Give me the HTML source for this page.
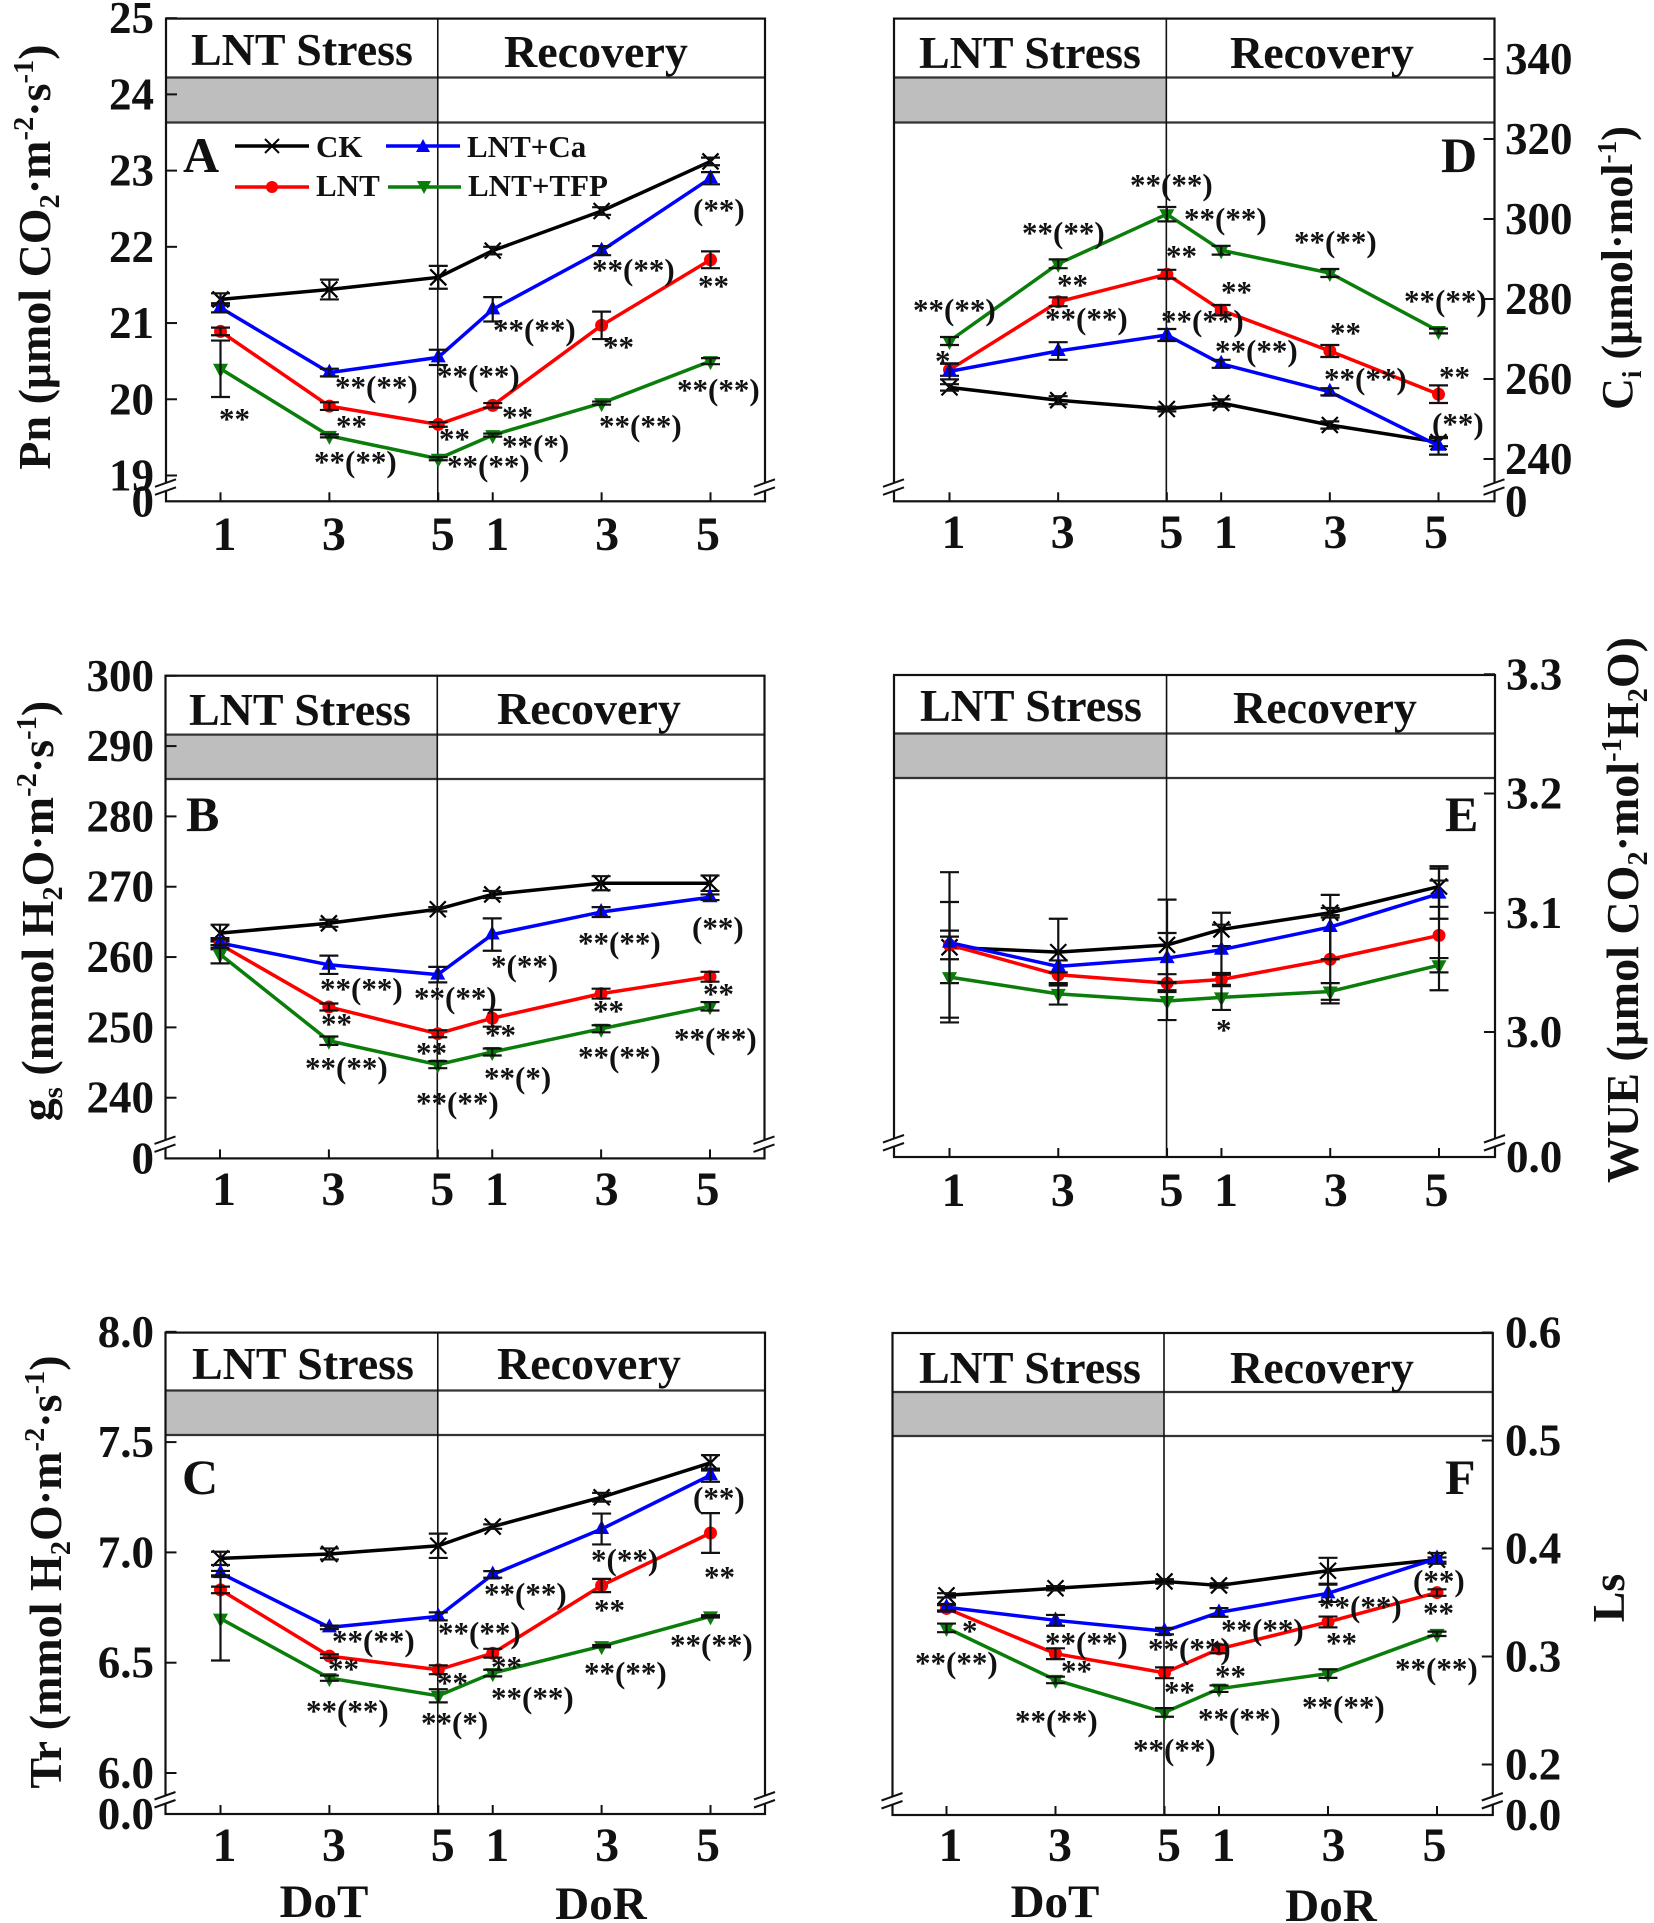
<!DOCTYPE html>
<html lang="en">
<head>
<meta charset="utf-8">
<title>Photosynthetic parameters under LNT stress and recovery</title>
<style>
html,body{margin:0;padding:0;background:#fff;}
svg{display:block;}
text{font-family:"Liberation Serif",serif;font-weight:bold;fill:#111;}
.head{font-size:46px;}
.letter{font-size:50px;}
.title{font-size:46px;}
.title-sm{font-size:44px;}
.tick{font-size:45px;}
.xl{font-size:48px;}
.xt{font-size:47px;}
.leg{font-size:31px;}
.sig{font-size:31px;}
.s{font-size:62%;}
</style>
</head>
<body>
<svg id="figure" xmlns="http://www.w3.org/2000/svg" width="1654" height="1923" viewBox="0 0 1654 1923">
<rect width="1654" height="1923" fill="#fff"/>
<g id="charts"></g>

<g>
<text class="head" x="191" y="65">LNT Stress</text>
<text class="head" x="504" y="67">Recovery</text>
<text class="head" x="919" y="68">LNT Stress</text>
<text class="head" x="1230" y="68">Recovery</text>
<text class="head" x="189" y="725">LNT Stress</text>
<text class="head" x="497" y="724">Recovery</text>
<text class="head" x="920" y="721">LNT Stress</text>
<text class="head" x="1233" y="723">Recovery</text>
<text class="head" x="192" y="1379">LNT Stress</text>
<text class="head" x="497" y="1379">Recovery</text>
<text class="head" x="919" y="1383">LNT Stress</text>
<text class="head" x="1230" y="1383">Recovery</text>
</g>

<g>
<text class="letter" x="183" y="172">A</text>
<text class="letter" x="186" y="831">B</text>
<text class="letter" x="182" y="1494">C</text>
<text class="letter" x="1441" y="172">D</text>
<text class="letter" x="1445" y="831">E</text>
<text class="letter" x="1445" y="1494">F</text>
</g>

<g>
<text class="title" text-anchor="middle" transform="translate(50,257) rotate(-90)">Pn (μmol CO<tspan class="s" dy="9">2</tspan><tspan dy="-9">·m</tspan><tspan class="s" dy="-17">-2</tspan><tspan dy="17">·s</tspan><tspan class="s" dy="-17">-1</tspan><tspan dy="17">)</tspan></text>
<text class="title" text-anchor="middle" transform="translate(53,911) rotate(-90)">g<tspan class="s" dy="9">s</tspan><tspan dy="-9"> (mmol H</tspan><tspan class="s" dy="9">2</tspan><tspan dy="-9">O·m</tspan><tspan class="s" dy="-17">-2</tspan><tspan dy="17">·s</tspan><tspan class="s" dy="-17">-1</tspan><tspan dy="17">)</tspan></text>
<text class="title" text-anchor="middle" transform="translate(61,1572) rotate(-90)">Tr (mmol H<tspan class="s" dy="9">2</tspan><tspan dy="-9">O·m</tspan><tspan class="s" dy="-17">-2</tspan><tspan dy="17">·s</tspan><tspan class="s" dy="-17">-1</tspan><tspan dy="17">)</tspan></text>
<text class="title-sm" text-anchor="middle" transform="translate(1632,268) rotate(-90)">C<tspan class="s" dy="9">i</tspan><tspan dy="-9"> (μmol·mol</tspan><tspan class="s" dy="-16">-1</tspan><tspan dy="16">)</tspan></text>
<text class="title" text-anchor="middle" transform="translate(1638,910) rotate(-90)">WUE (μmol CO<tspan class="s" dy="9">2</tspan><tspan dy="-9">·mol</tspan><tspan class="s" dy="-17">-1</tspan><tspan dy="17">H</tspan><tspan class="s" dy="9">2</tspan><tspan dy="-9">O)</tspan></text>
<text class="title" text-anchor="middle" transform="translate(1624,1598) rotate(-90)">Ls</text>
</g>

<g>
<text class="xt" text-anchor="middle" x="324" y="1917">DoT</text>
<text class="xt" text-anchor="middle" x="601" y="1919">DoR</text>
<text class="xt" text-anchor="middle" x="1055" y="1917">DoT</text>
<text class="xt" text-anchor="middle" x="1331" y="1921">DoR</text>
</g>

<g>
<g>
<line x1="235" y1="146" x2="309" y2="146" stroke="#000" stroke-width="3.5"/>
<path d="M265 139l14 14M279 139l-14 14" stroke="#000" stroke-width="2" fill="none"/>
<text class="leg" x="316" y="157">CK</text>
</g>
<g>
<line x1="386" y1="146" x2="460" y2="146" stroke="#0000ff" stroke-width="3.5"/>
<path d="M423 139l7 13h-14z" fill="#0000ff"/>
<text class="leg" x="467" y="157">LNT+Ca</text>
</g>
<g>
<line x1="235" y1="187" x2="309" y2="187" stroke="#ff0000" stroke-width="3.5"/>
<circle cx="272" cy="187" r="6" fill="#ff0000"/>
<text class="leg" x="316" y="196">LNT</text>
</g>
<g>
<line x1="388" y1="187" x2="461" y2="187" stroke="#0a7d0a" stroke-width="3.5"/>
<path d="M424 194l7 -13h-14z" fill="#0a7d0a"/>
<text class="leg" x="468" y="196">LNT+TFP</text>
</g>
</g>

<g>
<text class="sig" x="219" y="429">**</text>
<text class="sig" x="693" y="220">(**)</text>
<text class="sig" x="592" y="280">**(**)</text>
<text class="sig" x="698" y="296">**</text>
<text class="sig" x="493" y="340">**(**)</text>
<text class="sig" x="603" y="357">**</text>
<text class="sig" x="335" y="397">**(**)</text>
<text class="sig" x="437" y="386">**(**)</text>
<text class="sig" x="336" y="436">**</text>
<text class="sig" x="502" y="427">**</text>
<text class="sig" x="439" y="449">**</text>
<text class="sig" x="502" y="456">**(*)</text>
<text class="sig" x="314" y="472">**(**)</text>
<text class="sig" x="447" y="476">**(**)</text>
<text class="sig" x="599" y="436">**(**)</text>
<text class="sig" x="677" y="400">**(**)</text>
</g>
<g>
<text class="sig" x="913" y="320">**(**)</text>
<text class="sig" x="935" y="371">*</text>
<text class="sig" x="1022" y="243">**(**)</text>
<text class="sig" x="1057" y="295">**</text>
<text class="sig" x="1045" y="329">**(**)</text>
<text class="sig" x="1130" y="195">**(**)</text>
<text class="sig" x="1166" y="266">**</text>
<text class="sig" x="1161" y="331">**(**)</text>
<text class="sig" x="1184" y="229">**(**)</text>
<text class="sig" x="1221" y="302">**</text>
<text class="sig" x="1215" y="361">**(**)</text>
<text class="sig" x="1294" y="252">**(**)</text>
<text class="sig" x="1330" y="343">**</text>
<text class="sig" x="1324" y="389">**(**)</text>
<text class="sig" x="1404" y="311">**(**)</text>
<text class="sig" x="1439" y="387">**</text>
<text class="sig" x="1432" y="434">(**)</text>
</g>
<g>
<text class="sig" x="320" y="999">**(**)</text>
<text class="sig" x="321" y="1034">**</text>
<text class="sig" x="305" y="1078">**(**)</text>
<text class="sig" x="414" y="1008">**(**)</text>
<text class="sig" x="416" y="1063">**</text>
<text class="sig" x="416" y="1113">**(**)</text>
<text class="sig" x="491" y="976">*(**)</text>
<text class="sig" x="485" y="1045">**</text>
<text class="sig" x="484" y="1088">**(*)</text>
<text class="sig" x="578" y="953">**(**)</text>
<text class="sig" x="593" y="1021">**</text>
<text class="sig" x="578" y="1067">**(**)</text>
<text class="sig" x="692" y="938">(**)</text>
<text class="sig" x="703" y="1004">**</text>
<text class="sig" x="674" y="1049">**(**)</text>
</g>
<g>
<text class="sig" x="1216" y="1040">*</text>
</g>
<g>
<text class="sig" x="332" y="1651">**(**)</text>
<text class="sig" x="328" y="1679">**</text>
<text class="sig" x="306" y="1721">**(**)</text>
<text class="sig" x="438" y="1643">**(**)</text>
<text class="sig" x="437" y="1693">**</text>
<text class="sig" x="421" y="1733">**(*)</text>
<text class="sig" x="484" y="1604">**(**)</text>
<text class="sig" x="491" y="1677">**</text>
<text class="sig" x="491" y="1708">**(**)</text>
<text class="sig" x="591" y="1570">*(**)</text>
<text class="sig" x="594" y="1620">**</text>
<text class="sig" x="584" y="1683">**(**)</text>
<text class="sig" x="693" y="1508">(**)</text>
<text class="sig" x="704" y="1587">**</text>
<text class="sig" x="670" y="1655">**(**)</text>
</g>
<g>
<text class="sig" x="962" y="1641">*</text>
<text class="sig" x="915" y="1673">**(**)</text>
<text class="sig" x="1045" y="1653">**(**)</text>
<text class="sig" x="1061" y="1681">**</text>
<text class="sig" x="1015" y="1731">**(**)</text>
<text class="sig" x="1148" y="1659">**(**)</text>
<text class="sig" x="1164" y="1702">**</text>
<text class="sig" x="1133" y="1760">**(**)</text>
<text class="sig" x="1221" y="1640">**(**)</text>
<text class="sig" x="1215" y="1686">**</text>
<text class="sig" x="1198" y="1729">**(**)</text>
<text class="sig" x="1319" y="1617">**(**)</text>
<text class="sig" x="1326" y="1653">**</text>
<text class="sig" x="1302" y="1717">**(**)</text>
<text class="sig" x="1413" y="1591">(**)</text>
<text class="sig" x="1423" y="1623">**</text>
<text class="sig" x="1395" y="1679">**(**)</text>
</g>
</svg>

<script>
// Shared category data: day of treatment / day of recovery
const dayPositions = [1, 3, 5, 6, 8, 10];
const dayLabels = ['1', '3', '5', '1', '3', '5'];

// Panel A: Pn
const pnTicks = [19, 20, 21, 22, 23, 24, 25];
const pnCK = [21.31, 21.44, 21.6, 21.95, 22.47, 23.12];
const pnCKErr = [0.08, 0.13, 0.15, 0.05, 0.05, 0.05];
const pnLNT = [20.89, 19.91, 19.67, 19.92, 20.97, 21.83];
const pnLNTErr = [0.05, 0.05, 0.03, 0.03, 0.18, 0.11];
const pnCa = [21.2, 20.35, 20.55, 21.18, 21.95, 22.9];
const pnCaErr = [0.06, 0.05, 0.1, 0.16, 0.06, 0.08];
const pnTFP = [20.4, 19.52, 19.22, 19.53, 19.95, 20.5];
const pnTFPErr = [0.37, 0.02, 0.02, 0.02, 0.02, 0.04];

// Panel B: gs
const gsTicks = [240, 250, 260, 270, 280, 290, 300];
const gsCK = [263.4, 264.8, 266.8, 268.9, 270.5, 270.5];
const gsCKErr = [1.2, 0.5, 0.3, 0.5, 1, 1.1];
const gsLNT = [261.8, 252.9, 249.1, 251.3, 254.8, 257.2];
const gsLNTErr = [0.7, 0.5, 0.5, 1.2, 0.7, 0.7];
const gsCa = [262, 258.9, 257.5, 263.2, 266.4, 268.5];
const gsCaErr = [0.7, 1.3, 1.1, 2.3, 0.7, 0.4];
const gsTFP = [260.4, 248.1, 244.7, 246.5, 249.8, 253];
const gsTFPErr = [1.3, 0.6, 0.5, 0.5, 0.5, 0.6];

// Panel C: Tr
const trTicks = [6, 6.5, 7, 7.5, 8];
const trCK = [6.973, 6.993, 7.03, 7.117, 7.25, 7.406];
const trCKErr = [0.03, 0.025, 0.055, 0.01, 0.02, 0.035];
const trLNT = [6.83, 6.53, 6.468, 6.543, 6.85, 7.088];
const trLNTErr = [0.015, 0.008, 0.02, 0.02, 0.03, 0.09];
const trCa = [6.906, 6.66, 6.71, 6.9, 7.106, 7.35];
const trCaErr = [0.01, 0.008, 0.018, 0.015, 0.07, 0.03];
const trTFP = [6.7, 6.43, 6.35, 6.453, 6.575, 6.71];
const trTFPErr = [0.19, 0.012, 0.03, 0.015, 0.005, 0.005];

// Panel D: Ci
const ciTicks = [240, 260, 280, 300, 320, 340];
const ciCK = [257.9, 254.7, 252.5, 254, 248.5, 244.2];
const ciCKErr = [0.8, 1, 0.6, 0.9, 0.9, 1];
const ciLNT = [262.3, 279.3, 286.2, 277.2, 267, 256.2];
const ciLNTErr = [1.5, 1.1, 1.1, 1.3, 1.5, 2.2];
const ciCa = [261.9, 267, 271, 263.8, 256.8, 243.3];
const ciCaErr = [2, 2.2, 1.5, 1, 0.9, 2.2];
const ciTFP = [269.5, 288.8, 301.2, 292.2, 286.5, 272];
const ciTFPErr = [1, 1.1, 1.8, 1.1, 1, 0.6];

// Panel E: WUE
const wueTicks = [3, 3.1, 3.2, 3.3];
const wueCK = [3.071, 3.067, 3.073, 3.086, 3.1, 3.122];
const wueCKErr = [0.063, 0.028, 0.038, 0.014, 0.004, 0.017];
const wueLNT = [3.073, 3.048, 3.041, 3.044, 3.061, 3.081];
const wueLNTErr = [0.012, 0.008, 0.0075, 0.0055, 0.037, 0.046];
const wueCa = [3.075, 3.055, 3.062, 3.069, 3.088, 3.116];
const wueCaErr = [0.034, 0.005, 0.021, 0.021, 0.027, 0.021];
const wueTFP = [3.046, 3.032, 3.026, 3.029, 3.034, 3.056];
const wueTFPErr = [0.034, 0.009, 0.016, 0.0105, 0.007, 0.006];

// Panel F: Ls
const lsTicks = [0.2, 0.3, 0.4, 0.5, 0.6];
const lsCK = [0.3566, 0.3632, 0.3695, 0.3658, 0.3794, 0.3897];
const lsCKErr = [0.002, 0.002, 0.002, 0.002, 0.012, 0.002];
const lsLNT = [0.3445, 0.3026, 0.2849, 0.307, 0.332, 0.3592];
const lsLNTErr = [0.003, 0.005, 0.005, 0.004, 0.005, 0.003];
const lsCa = [0.3456, 0.3335, 0.3235, 0.3408, 0.3585, 0.3908];
const lsCaErr = [0.003, 0.005, 0.003, 0.004, 0.008, 0.005];
const lsTFP = [0.3265, 0.2783, 0.2482, 0.2702, 0.2842, 0.321];
const lsTFPErr = [0.004, 0.003, 0.004, 0.003, 0.004, 0.002];

const NS = 'http://www.w3.org/2000/svg';
const charts = document.getElementById('charts');

function mk(tag, parent, attrs, text) {
  const el = document.createElementNS(NS, tag);
  for (const k in attrs) el.setAttribute(k, attrs[k]);
  if (text !== undefined) el.textContent = text;
  parent.appendChild(el);
  return el;
}
function linearScale(v0, p0, v1, p1) {
  return function (v) { return p0 + (v - v0) * (p1 - p0) / (v1 - v0); };
}
function xLabelOffset(i) {
  if (i === 5) return -2.5;
  if (i === 4) return 5.5;
  if (i === 0) return 4;
  return 4.5;
}

function drawPanel(cfg) {
  const g = mk('g', charts, {});
  
  
  const x = linearScale(1, cfg.x1, 10, cfg.x10);
  const y = linearScale(cfg.v0, cfg.p0, cfg.v1, cfg.p1);
  const midX = x(5) - 0.5;

  // shaded treatment band
  const band = mk('rect', g, {x: cfg.left, y: cfg.h1, width: midX - cfg.left, height: cfg.h2 - cfg.h1, fill: '#bebebe'});
  
  

  // header rules
  [cfg.h1, cfg.h2].forEach(function (yy) {
    const rule = mk('line', g, {x1: cfg.left, y1: yy, x2: cfg.right, y2: yy, stroke: '#333', 'stroke-width': 2.2});
    
    
  });

  // plot frame
  const frame = mk('rect', g, {x: cfg.left, y: cfg.top, width: cfg.right - cfg.left, height: cfg.bottom - cfg.top, fill: 'none', stroke: '#111', 'stroke-width': 2.2});
  
  

  // stage divider
  const divider = mk('line', g, {x1: midX, y1: cfg.top, x2: midX, y2: cfg.bottom, stroke: '#111', 'stroke-width': 1.6});
  
  

  // x ticks and labels
  dayPositions.forEach(function (d, i) {
    const t = mk('line', g, {x1: x(d), y1: cfg.bottom, x2: x(d), y2: cfg.bottom - 9, stroke: '#111', 'stroke-width': 2});
    
    
    const lb = mk('text', g, {x: x(d) + xLabelOffset(i), y: cfg.xBase, 'text-anchor': 'middle', class: 'xl'}, dayLabels[i]);
    
    
  });

  // y ticks and labels
  const axisX = cfg.side === 'left' ? cfg.left : cfg.right;
  const dir = cfg.side === 'left' ? 1 : -1;
  cfg.ticks.forEach(function (v) {
    const t = mk('line', g, {x1: axisX, y1: y(v), x2: axisX + dir * 11, y2: y(v), stroke: '#111', 'stroke-width': 2});
    
    
    const lb = mk('text', g, {x: cfg.labelX, y: y(v) + 15, 'text-anchor': cfg.side === 'left' ? 'end' : 'start', class: 'tick'}, v.toFixed(cfg.decimals));
    
    
  });
  const zero = mk('text', g, {x: cfg.labelX, y: cfg.bottom + 15, 'text-anchor': cfg.side === 'left' ? 'end' : 'start', class: 'tick'}, cfg.zero);
  
  

  // axis breaks
  [cfg.left, cfg.right].forEach(function (bx) {
    const by = cfg.bottom;
    const brk = mk('g', g, {});
    
    
    mk('path', brk, {d: 'M' + (bx - 11) + ' ' + (by - 14.5) + 'L' + (bx + 10) + ' ' + (by - 22) + 'V' + (by - 14) + 'L' + (bx - 11) + ' ' + (by - 6.5) + 'z', fill: '#fff'});
    mk('line', brk, {x1: bx - 11, y1: by - 14.5, x2: bx + 10, y2: by - 22, stroke: '#111', 'stroke-width': 2});
    mk('line', brk, {x1: bx - 11, y1: by - 6.5, x2: bx + 10, y2: by - 14, stroke: '#111', 'stroke-width': 2});
  });

  // series
  cfg.series.forEach(function (s) {
    const sg = mk('g', g, {});
    
    
    const pts = s.values.map(function (v, i) { return x(dayPositions[i]) + ',' + y(v); }).join(' ');
    const line = mk('polyline', sg, {points: pts, fill: 'none', stroke: s.color, 'stroke-width': 3.5, 'stroke-linejoin': 'round'});
    
    
    s.values.forEach(function (v, i) {
      const px = x(dayPositions[i]);
      const py = y(v);
      let m;
      if (s.marker === 'cross') {
        m = mk('path', sg, {d: 'M' + (px - 8) + ' ' + (py - 8) + 'l16 16M' + (px + 8) + ' ' + (py - 8) + 'l-16 16', stroke: s.color, 'stroke-width': 2.2, fill: 'none'});
      } else if (s.marker === 'circle') {
        m = mk('circle', sg, {cx: px, cy: py, r: 6.5, fill: s.color});
      } else if (s.marker === 'up') {
        m = mk('path', sg, {d: 'M' + px + ' ' + (py - 9) + 'l7.5 14h-15z', fill: s.color});
      } else {
        m = mk('path', sg, {d: 'M' + px + ' ' + (py + 9) + 'l7.5 -14h-15z', fill: s.color});
      }
      
      
      const hi = y(v + s.errors[i]);
      const lo = y(v - s.errors[i]);
      const bar = mk('path', sg, {d: 'M' + px + ' ' + hi + 'V' + lo + 'M' + (px - 9.5) + ' ' + hi + 'h19M' + (px - 9.5) + ' ' + lo + 'h19', stroke: '#111', 'stroke-width': 2.2, fill: 'none'});
      
      
    });
  });
}

function seriesSet(ck, ckE, lnt, lntE, ca, caE, tfp, tfpE) {
  return [
    {key: 'ck', color: '#000000', marker: 'cross', values: ck, errors: ckE},
    {key: 'lnt', color: '#ff0000', marker: 'circle', values: lnt, errors: lntE},
    {key: 'lnt-ca', color: '#0000ff', marker: 'up', values: ca, errors: caE},
    {key: 'lnt-tfp', color: '#0a7d0a', marker: 'down', values: tfp, errors: tfpE}
  ];
}

drawPanel({id: 'a', side: 'left', left: 166, right: 765, top: 18.6, h1: 77.5, h2: 122.5, bottom: 501.3,
  x1: 220.5, x10: 710.5, xBase: 550, v0: 19, p0: 475.5, v1: 23, p1: 170.6, ticks: pnTicks, decimals: 0,
  labelX: 154, zero: '0', series: seriesSet(pnCK, pnCKErr, pnLNT, pnLNTErr, pnCa, pnCaErr, pnTFP, pnTFPErr)});
drawPanel({id: 'b', side: 'left', left: 165.5, right: 764.5, top: 675.7, h1: 734.6, h2: 779, bottom: 1158.4,
  x1: 220, x10: 710, xBase: 1205, v0: 240, p0: 1097.7, v1: 280, p1: 816.4, ticks: gsTicks, decimals: 0,
  labelX: 154, zero: '0', series: seriesSet(gsCK, gsCKErr, gsLNT, gsLNTErr, gsCa, gsCaErr, gsTFP, gsTFPErr)});
drawPanel({id: 'c', side: 'left', left: 165.5, right: 765, top: 1332.6, h1: 1390.5, h2: 1435, bottom: 1814,
  x1: 220.5, x10: 710.5, xBase: 1861, v0: 6, p0: 1773, v1: 8, p1: 1331.8, ticks: trTicks, decimals: 1,
  labelX: 154, zero: '0.0', series: seriesSet(trCK, trCKErr, trLNT, trLNTErr, trCa, trCaErr, trTFP, trTFPErr)});
drawPanel({id: 'd', side: 'right', left: 894, right: 1494.5, top: 18.6, h1: 77.5, h2: 122.5, bottom: 501.3,
  x1: 949.5, x10: 1438.5, xBase: 548, v0: 240, p0: 459, v1: 340, p1: 59, ticks: ciTicks, decimals: 0,
  labelX: 1505, zero: '0', series: seriesSet(ciCK, ciCKErr, ciLNT, ciLNTErr, ciCa, ciCaErr, ciTFP, ciTFPErr)});
drawPanel({id: 'e', side: 'right', left: 894, right: 1495, top: 675, h1: 733.5, h2: 778, bottom: 1157,
  x1: 949.5, x10: 1439, xBase: 1206, v0: 3, p0: 1032, v1: 3.2, p1: 793.5, ticks: wueTicks, decimals: 1,
  labelX: 1506, zero: '0.0', series: seriesSet(wueCK, wueCKErr, wueLNT, wueLNTErr, wueCa, wueCaErr, wueTFP, wueTFPErr)});
drawPanel({id: 'f', side: 'right', left: 892.5, right: 1492.8, top: 1333, h1: 1392, h2: 1436, bottom: 1815,
  x1: 946.5, x10: 1437, xBase: 1861, v0: 0.2, p0: 1764.5, v1: 0.5, p1: 1440.5, ticks: lsTicks, decimals: 1,
  labelX: 1505, zero: '0.0', series: seriesSet(lsCK, lsCKErr, lsLNT, lsLNTErr, lsCa, lsCaErr, lsTFP, lsTFPErr)});
</script>
</body>
</html>
